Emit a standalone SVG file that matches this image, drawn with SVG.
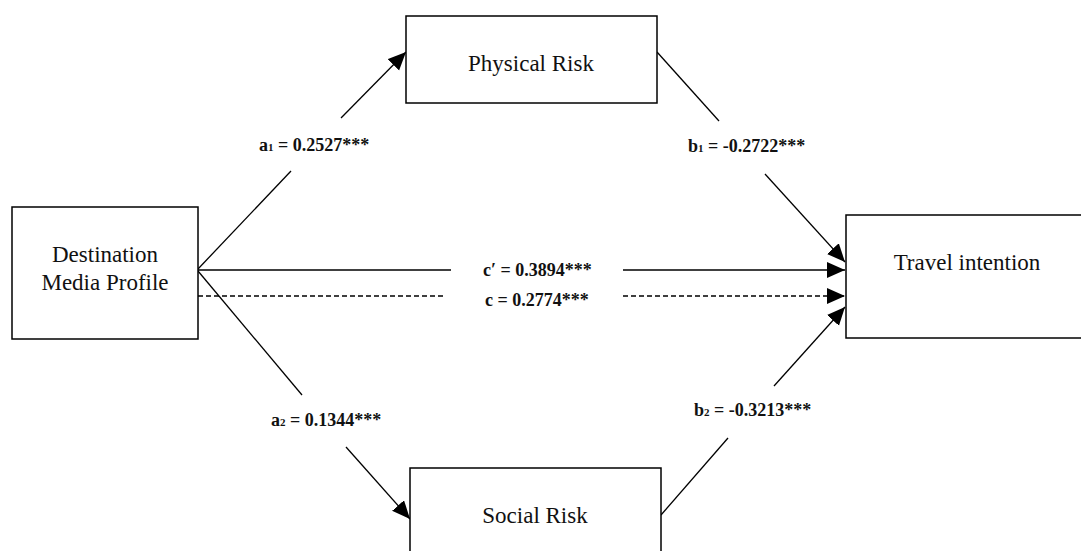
<svg xmlns="http://www.w3.org/2000/svg" width="1081" height="551" viewBox="0 0 1081 551">
<style>
.box{fill:#fff;stroke:#000;stroke-width:1.5}
.node{font-family:"Liberation Serif",serif;font-size:23px;fill:#111;text-anchor:middle}
.lab{font-family:"Liberation Serif",serif;font-size:18px;font-weight:bold;fill:#111}
.sub{font-size:11px}
.ln{stroke:#000;stroke-width:1.3;fill:none}
.dash{stroke-dasharray:5,3}
</style>
<defs>
<marker id="arr" markerUnits="userSpaceOnUse" markerWidth="19" markerHeight="17" refX="18" refY="8" orient="auto">
<path d="M0,0 L18,8 L0,16 z" fill="#000"/>
</marker>
</defs>
<rect width="1081" height="551" fill="#fff"/>
<g id="connectors">
<line class="ln" x1="198" y1="269" x2="291" y2="171"/>
<line class="ln" x1="341" y1="118" x2="406" y2="52" marker-end="url(#arr)"/>
<line class="ln" x1="657" y1="52" x2="719" y2="121"/>
<line class="ln" x1="765" y1="174" x2="845" y2="262" marker-end="url(#arr)"/>
<line class="ln" x1="198" y1="270" x2="451" y2="270"/>
<line class="ln" x1="623" y1="270" x2="845" y2="270" marker-end="url(#arr)"/>
<line class="ln dash" x1="198" y1="296" x2="445" y2="296"/>
<line class="ln dash" x1="623" y1="296" x2="845" y2="296" marker-end="url(#arr)"/>
<line class="ln" x1="198" y1="271" x2="302" y2="395"/>
<line class="ln" x1="346" y1="447" x2="410" y2="519" marker-end="url(#arr)"/>
<line class="ln" x1="661" y1="515" x2="728" y2="438"/>
<line class="ln" x1="774" y1="386" x2="845" y2="307" marker-end="url(#arr)"/>
<text class="lab" x="259" y="151">a<tspan class="sub">1</tspan> = 0.2527***</text>
<text class="lab" x="688" y="152">b<tspan class="sub">1</tspan> = -0.2722***</text>
<text class="lab" x="483" y="276">c′ = 0.3894***</text>
<text class="lab" x="485" y="306">c = 0.2774***</text>
<text class="lab" x="271" y="426">a<tspan class="sub">2</tspan> = 0.1344***</text>
<text class="lab" x="694" y="416">b<tspan class="sub">2</tspan> = -0.3213***</text>
</g>
<g id="dmp">
<rect class="box" x="12" y="207" width="186" height="132"/>
<text class="node" x="105" y="262">Destination</text>
<text class="node" x="105" y="290">Media Profile</text>
</g>
<g id="physical">
<rect class="box" x="406" y="16" width="251" height="87"/>
<text class="node" x="531" y="71">Physical Risk</text>
</g>
<g id="social">
<rect class="box" x="410" y="468" width="251" height="90"/>
<text class="node" x="535" y="523">Social Risk</text>
</g>
<g id="travel">
<rect class="box" x="846" y="215" width="240" height="123"/>
<text class="node" x="967" y="270">Travel intention</text>
</g>
</svg>
